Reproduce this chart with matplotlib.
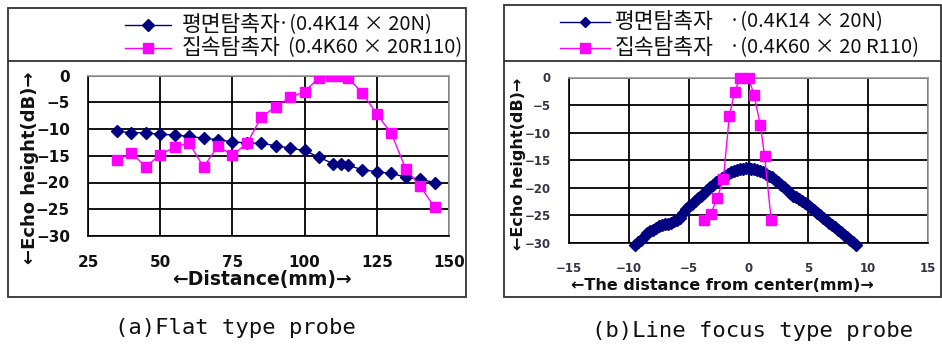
import matplotlib
matplotlib.use("Agg")
import matplotlib.pyplot as plt
from matplotlib.patches import Rectangle
from matplotlib.lines import Line2D

plt.rcParams['font.family'] = ['DejaVu Sans', 'Noto Sans CJK KR']

# ---------------- data ----------------
# (a) Flat type probe
flat_a_x = [35, 40, 45, 50, 55, 60, 65, 70, 75, 80, 85, 90, 95, 100, 105, 110, 112.5, 115,
            120, 125, 130, 135, 140, 145]
flat_a_y = [-10.4, -10.7, -10.7, -11.0, -11.1, -11.4, -11.7, -12.0, -12.4, -12.6, -12.7, -13.1,
            -13.6, -14.0, -15.3, -16.5, -16.5, -16.8, -17.6, -18.0, -18.3, -19.0, -19.4, -20.0]
focus_a_x = [35, 40, 45, 50, 55, 60, 65, 70, 75, 80, 85, 90, 95, 100, 105, 109, 112, 115,
             120, 125, 130, 135, 140, 145]
focus_a_y = [-15.8, -14.4, -17.1, -14.8, -13.4, -12.6, -17.1, -13.2, -14.9, -12.7, -7.8, -5.8,
             -4.1, -3.0, -0.4, 0.0, 0.0, -0.4, -3.3, -7.2, -10.8, -17.4, -20.7, -24.6]

# (b) Line focus type probe
flat_b_x = [-9.5, -9.25, -9.0, -8.75, -8.5, -8.25, -8.0, -7.75, -7.5, -7.25, -7.0, -6.75,
            -6.5, -6.25, -6.0, -5.75, -5.5, -5.25, -5.0, -4.75, -4.5, -4.25, -4.0, -3.75,
            -3.5, -3.25, -3.0, -2.75, -2.5, -2.25, -2.0, -1.75, -1.5, -1.25, -1.0, -0.75,
            -0.5, -0.25, 0.0, 0.25, 0.5, 0.75, 1.0, 1.25, 1.5, 1.75, 2.0, 2.25, 2.5, 2.75,
            3.0, 3.25, 3.5, 3.75, 4.0, 4.25, 4.5, 4.75, 5.0, 5.25, 5.5, 5.75, 6.0, 6.25,
            6.5, 6.75, 7.0, 7.25, 7.5, 7.75, 8.0, 8.25, 8.5, 8.75, 9.0]
flat_b_y = [-30.4, -29.9, -29.4, -28.9, -28.2, -27.9, -27.6, -27.3, -27.0, -26.8, -26.6, -26.5,
            -26.3, -26.0, -25.8, -25.4, -24.6, -23.8, -23.3, -22.9, -22.4, -21.9, -21.4, -20.9,
            -20.4, -19.9, -19.4, -19.0, -18.6, -18.2, -17.8, -17.5, -17.2, -17.0, -16.8, -16.6,
            -16.5, -16.4, -16.4, -16.5, -16.6, -16.8, -17.0, -17.2, -17.5, -17.8, -18.1, -18.5,
            -18.9, -19.4, -19.9, -20.4, -20.9, -21.4, -21.7, -22.0, -22.4, -22.8, -23.2, -23.6,
            -24.1, -24.6, -25.0, -25.4, -25.8, -26.3, -26.7, -27.1, -27.6, -28.0, -28.5, -29.0,
            -29.4, -29.9, -30.4]
focus_b_x = [-3.7, -3.15, -2.6, -2.1, -1.6, -1.15, -0.7, 0.0, 0.45, 1.0, 1.35, 1.9]
focus_b_y = [-25.8, -24.7, -21.8, -18.4, -6.9, -2.6, 0.0, 0.0, -3.1, -8.7, -14.3, -25.9]

label_flat_a = ["평면탐촉자", "·(0.4K14 × 20N)"]
label_focus_a = ["집속탐촉자", "(0.4K60 × 20R110)"]
label_flat_b = ["평면탐촉자", "·(0.4K14 × 20N)"]
label_focus_b = ["집속탐촉자", "·(0.4K60 × 20 R110)"]
ylabel = "←Echo height(dB)→"
xlabel_a = "←Distance(mm)→"
xlabel_b = "←The distance from center(mm)→"
caption_a = "(a)Flat type probe"
caption_b = "(b)Line focus type probe"

NAVY = "#000080"
PINK = "#FF00FF"
CJK = ['Noto Sans CJK KR', 'DejaVu Sans']

W, H = 942, 349
fig = plt.figure(figsize=(W / 100, H / 100), dpi=100)


def fx(px):
    return px / W


def fy(py):
    return 1 - py / H


def frame(x0, y0, x1, y1, ysep):
    fig.add_artist(Rectangle((fx(x0), fy(y1)), fx(x1) - fx(x0), fy(y0) - fy(y1),
                             transform=fig.transFigure, fill=False, edgecolor="#333333",
                             linewidth=1.3))
    fig.add_artist(Line2D([fx(x0), fx(x1)], [fy(ysep), fy(ysep)], transform=fig.transFigure,
                          color="#333333", linewidth=1.3))


frame(8, 8, 466, 297, 61)
frame(504, 5, 941, 297, 61)


def style_axes(ax, xmin, xmax, xstep, tick_fs, tick_color, tick_weight, xpad, ypad):
    ax.set_xlim(xmin, xmax)
    ax.set_ylim(-30, 0)
    ax.set_xticks(list(range(xmin, xmax + 1, xstep)))
    ax.set_yticks(list(range(-30, 1, 5)))
    ax.grid(True, color="black", linewidth=1.3)
    ax.set_axisbelow(True)
    ax.tick_params(length=0, labelsize=tick_fs, labelcolor=tick_color)
    ax.tick_params(axis='x', pad=xpad)
    ax.tick_params(axis='y', pad=ypad)
    fmt = matplotlib.ticker.FuncFormatter(lambda v, p: f"{int(v)}".replace("-", "−"))
    ax.yaxis.set_major_formatter(fmt)
    ax.xaxis.set_major_formatter(fmt)
    for lab in ax.get_xticklabels() + ax.get_yticklabels():
        lab.set_fontweight(tick_weight)
    ax.spines['left'].set_color("black")
    ax.spines['bottom'].set_color("black")
    ax.spines['top'].set_color("#999999")
    ax.spines['right'].set_color("#999999")
    for s in ax.spines.values():
        s.set_linewidth(1.2)


def legend_rows(rows, x0, x1, xtext, xparen):
    for (yy, col, mk, ms, lab), xp in zip(rows, xparen):
        fig.add_artist(Line2D([fx(x0), fx(x1)], [fy(yy), fy(yy)], transform=fig.transFigure,
                              color=col, linewidth=1.0))
        fig.add_artist(Line2D([fx((x0 + x1) / 2)], [fy(yy)], transform=fig.transFigure,
                              color=col, marker=mk, markersize=ms, markerfacecolor=col,
                              markeredgecolor=col))
        fig.text(fx(xtext), fy(yy), lab[0], ha="left", va="center", fontsize=15.5,
                 color="#111111", family=CJK)
        fig.text(fx(xp), fy(yy), lab[1], ha="left", va="center", fontsize=14.5,
                 color="#111111", family=CJK)


# ---------- (a) ----------
axa = fig.add_axes([fx(88), fy(236), fx(449) - fx(88), fy(75.5) - fy(236)])
style_axes(axa, 25, 150, 25, 11, "#111111", "bold", 14, 13)
axa.plot(flat_a_x, flat_a_y, color=NAVY, linewidth=1.0, marker="D", markersize=6.5,
         markerfacecolor=NAVY, markeredgecolor=NAVY, zorder=3)
axa.plot(focus_a_x, focus_a_y, color=PINK, linewidth=1.0, marker="s", markersize=7.5,
         markerfacecolor=PINK, markeredgecolor=PINK, zorder=4)
fig.text(fx(30), fy(168), ylabel, rotation=90, ha="center", va="center",
         fontsize=13, fontweight="bold", color="#111111")
fig.text(fx(262), fy(280), xlabel_a, ha="center", va="center",
         fontsize=13.5, fontweight="bold", color="#111111")

legend_rows([(25, NAVY, "D", 6.5, label_flat_a), (48, PINK, "s", 7.5, label_focus_a)],
            125, 171, 182, [278, 288])

# ---------- (b) ----------
axb = fig.add_axes([fx(569), fy(243), fx(928) - fx(569), fy(77.5) - fy(243)])
style_axes(axb, -15, 15, 5, 8.5, "#333344", "bold", 14, 13)
axb.plot(flat_b_x, flat_b_y, color=NAVY, linewidth=1.0, marker="D", markersize=6,
         markerfacecolor=NAVY, markeredgecolor=NAVY, zorder=3, clip_on=False)
axb.plot(focus_b_x, focus_b_y, color=PINK, linewidth=1.0, marker="s", markersize=7.5,
         markerfacecolor=PINK, markeredgecolor=PINK, zorder=4, clip_on=False)
fig.text(fx(519), fy(164), ylabel, rotation=90, ha="center", va="center",
         fontsize=11.5, fontweight="bold", color="#111111")
fig.text(fx(722), fy(285), xlabel_b, ha="center", va="center",
         fontsize=11.5, fontweight="bold", color="#111111")

legend_rows([(22, NAVY, "D", 5, label_flat_b), (48, PINK, "s", 7.5, label_focus_b)],
            560, 610, 615, [729, 729])

# captions
fig.text(fx(235), fy(328), caption_a, ha="center", va="center", fontsize=16,
         family="DejaVu Sans Mono", color="#111111")
fig.text(fx(752), fy(331), caption_b, ha="center", va="center", fontsize=16,
         family="DejaVu Sans Mono", color="#111111")

fig.savefig("out.png", dpi=100)
